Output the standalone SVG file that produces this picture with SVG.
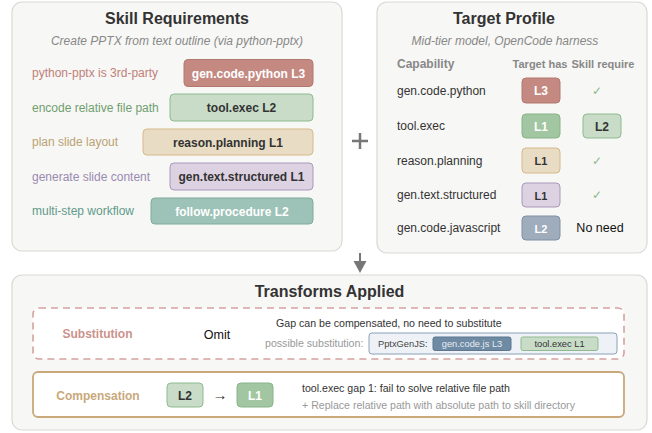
<svg xmlns="http://www.w3.org/2000/svg" width="652" height="433" viewBox="0 0 652 433">
<style>
text{font-family:"Liberation Sans",Helvetica,Arial,sans-serif}
.panel{fill:#f7f7f5;stroke:#d9d9d4;stroke-width:1.2}
.title{font-size:16px;font-weight:bold;fill:#333;text-anchor:middle}
.sub{font-size:12px;font-style:italic;fill:#888;text-anchor:middle}
.lbl{font-size:12px}
.pt{font-size:12px;font-weight:bold;text-anchor:middle}
.cap{font-size:12px;fill:#333}
.hdr{font-size:11px;font-weight:bold;fill:#888}
.red{fill:#c48a82;stroke:#b37870}
.grn{fill:#c8dcc8;stroke:#8fba8f}
.dgrn{fill:#a2c6a2;stroke:#88b488}
.tan{fill:#e9dcc5;stroke:#d6b98a}
.pur{fill:#ddd2e2;stroke:#a999ba}
.teal{fill:#9dc2b7;stroke:#7eab9c}
.slate{fill:#9eacbb;stroke:#7f91a4}
.w{fill:#fff}
.d{fill:#333}
.chk{font-size:12px;fill:#8fba8f;text-anchor:middle}
.sm{font-size:10.6px}
.xs{font-size:9.3px}
</style>

<g id="skill-requirements">
  <rect class="panel" x="12" y="2" width="330" height="249" rx="10"/>
  <text class="title" x="177" y="24">Skill Requirements</text>
  <text class="sub" x="177" y="45">Create PPTX from text outline (via python-pptx)</text>
  <g id="req-python">
    <text class="lbl" x="32" y="77" fill="#c0807a">python-pptx is 3rd-party</text>
    <rect class="red" x="184" y="59.5" width="129" height="27" rx="4"/>
    <text class="pt w" x="248.5" y="77.5">gen.code.python L3</text>
  </g>
  <g id="req-tool">
    <text class="lbl" x="32" y="111.5" fill="#6f9f6f">encode relative file path</text>
    <rect class="grn" x="170" y="94" width="143" height="27" rx="4"/>
    <text class="pt d" x="241.5" y="112">tool.exec L2</text>
  </g>
  <g id="req-reason">
    <text class="lbl" x="32" y="146" fill="#bba274">plan slide layout</text>
    <rect class="tan" x="143" y="129" width="170" height="26" rx="4"/>
    <text class="pt d" x="228" y="146.5">reason.planning L1</text>
  </g>
  <g id="req-text">
    <text class="lbl" x="32" y="180.5" fill="#9a8ab2">generate slide content</text>
    <rect class="pur" x="170" y="163" width="143" height="27" rx="4"/>
    <text class="pt d" x="241.5" y="181">gen.text.structured L1</text>
  </g>
  <g id="req-follow">
    <text class="lbl" x="32" y="215" fill="#5f9a8b">multi-step workflow</text>
    <rect class="teal" x="151" y="198" width="162" height="26" rx="4"/>
    <text class="pt w" x="232" y="215.5">follow.procedure L2</text>
  </g>
</g>

<g id="plus">
  <line x1="352" y1="141" x2="368" y2="141" stroke="#777" stroke-width="2.5"/>
  <line x1="360" y1="133" x2="360" y2="149" stroke="#777" stroke-width="2.5"/>
</g>

<g id="target-profile">
  <rect class="panel" x="377" y="2" width="270" height="251" rx="10"/>
  <text class="title" x="504" y="24">Target Profile</text>
  <text class="sub" x="505" y="45">Mid-tier model, OpenCode harness</text>
  <text class="hdr" x="397" y="68" style="font-size:12px">Capability</text>
  <text class="hdr" x="540" y="68" text-anchor="middle">Target has</text>
  <text class="hdr" x="603" y="68" text-anchor="middle">Skill require</text>
  <g id="tp-python">
    <text class="cap" x="397" y="94.5">gen.code.python</text>
    <rect class="red" x="522" y="78" width="38" height="25" rx="4"/>
    <text class="pt w" x="541" y="95">L3</text>
    <text class="chk" x="597" y="94.5">✓</text>
  </g>
  <g id="tp-tool">
    <text class="cap" x="397" y="130">tool.exec</text>
    <rect class="dgrn" x="522" y="114" width="38" height="24" rx="4"/>
    <text class="pt w" x="541" y="130.5">L1</text>
    <rect class="grn" x="583" y="114" width="38" height="24" rx="4"/>
    <text class="pt d" x="602" y="130.5">L2</text>
  </g>
  <g id="tp-reason">
    <text class="cap" x="397" y="164.5">reason.planning</text>
    <rect class="tan" x="522" y="148" width="38" height="25" rx="4"/>
    <text class="pt d" x="541" y="165" style="font-size:11px">L1</text>
    <text class="chk" x="597" y="164.5">✓</text>
  </g>
  <g id="tp-text">
    <text class="cap" x="397" y="199">gen.text.structured</text>
    <rect class="pur" x="522" y="183" width="38" height="24" rx="4"/>
    <text class="pt d" x="541" y="199.5" style="font-size:11px">L1</text>
    <text class="chk" x="597" y="199">✓</text>
  </g>
  <g id="tp-js">
    <text class="cap" x="397" y="232">gen.code.javascript</text>
    <rect class="slate" x="522" y="216" width="38" height="24" rx="4"/>
    <text class="pt w" x="541" y="232.5" style="font-size:11px">L2</text>
    <text x="600" y="232" font-size="12.5" fill="#111" text-anchor="middle">No need</text>
  </g>
</g>

<g id="connectors">
  <line x1="360" y1="253" x2="360" y2="263" stroke="#777" stroke-width="2"/>
  <polygon points="353.5,261 366.5,261 360,273" fill="#777"/>
</g>

<g id="transforms">
  <rect class="panel" x="12" y="275" width="635" height="155" rx="10"/>
  <text class="title" x="329.5" y="297">Transforms Applied</text>
  <g id="substitution">
    <rect x="33" y="308" width="591" height="51" rx="6" fill="#fff" stroke="#d4a39d" stroke-width="1.6" stroke-dasharray="7,5"/>
    <text x="97.5" y="338" font-size="12" font-weight="bold" fill="#cc928b" text-anchor="middle">Substitution</text>
    <text x="217" y="338.5" font-size="12.5" fill="#111" text-anchor="middle">Omit</text>
    <text class="sm" x="276" y="326.5" fill="#333">Gap can be compensated, no need to substitute</text>
    <text class="sm" x="265" y="347" fill="#999">possible substitution:</text>
    <rect x="369" y="333" width="248" height="21" rx="3" fill="#eef2f6" stroke="#8aa0b8" stroke-width="1"/>
    <text class="xs" x="378" y="346.8" fill="#444">PptxGenJS:</text>
    <rect x="433" y="337" width="78" height="13.5" rx="2" fill="#6f8aa3" stroke="#5d7791"/>
    <text class="xs" x="472" y="346.8" fill="#e6edf4" text-anchor="middle">gen.code.js L3</text>
    <rect class="grn" x="521" y="337" width="77" height="13.5" rx="2"/>
    <text class="xs" x="559.5" y="346.8" fill="#333" text-anchor="middle">tool.exec L1</text>
  </g>
  <g id="compensation">
    <rect x="33" y="372" width="591" height="45" rx="5" fill="#fff" stroke="#c9a87a" stroke-width="1.8"/>
    <text x="98" y="399.5" font-size="12" font-weight="bold" fill="#c9a87a" text-anchor="middle">Compensation</text>
    <rect class="grn" x="167" y="383" width="36" height="24" rx="4"/>
    <text class="pt d" x="185" y="399.5">L2</text>
    <text x="220" y="400" font-size="15" fill="#333" text-anchor="middle">→</text>
    <rect class="dgrn" x="237" y="383" width="36" height="24" rx="4"/>
    <text class="pt w" x="255" y="399.5">L1</text>
    <text class="sm" x="302" y="391.5" fill="#333">tool.exec gap 1: fail to solve relative file path</text>
    <text class="sm" x="302" y="408.5" fill="#999">+  Replace relative path with absolute path to skill directory</text>
  </g>
</g>
</svg>
